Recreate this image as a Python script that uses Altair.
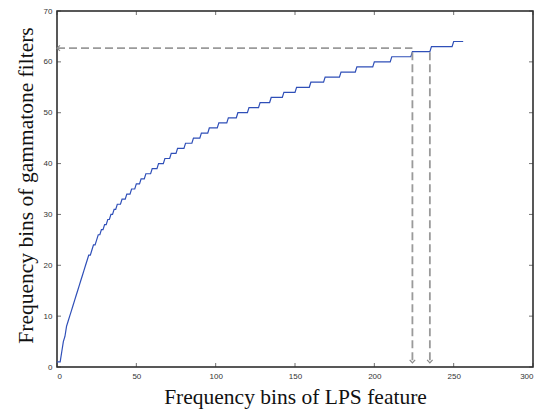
import altair as alt
import pandas as pd

# ---- data ----
# low part: gammatone bin reached at each LPS bin (0..40)
lps_bins_low = list(range(41))
gt_levels_low = [1, 1, 1, 3, 5, 6, 8, 9, 10, 11, 12, 13, 14, 15, 16, 17, 18, 19, 20, 21,
                 22, 22, 23, 24, 24, 25, 26, 26, 27, 27, 28, 28, 29, 29, 30, 30, 31, 31,
                 32, 32, 32]
# upper part: first LPS bin of each gammatone bin 33..64
gt_levels_high = list(range(33, 65))
first_lps_bin = [41, 44, 47, 50, 53, 56, 60, 64, 68, 72, 76, 81, 86, 91, 96, 102,
                 108, 114, 121, 128, 135, 143, 151, 160, 169, 179, 189, 200, 211, 224, 236, 250]
last_lps_bin = 256

# dashed guide lines (x, y, x2, y2)
guide_x = [0, 224, 235]
guide_y = [62.7, 61.9, 61.9]
guide_x2 = [224, 224, 235]
guide_y2 = [62.7, 0.8, 0.8]

x_ticks = [0, 50, 100, 150, 200, 250, 300]
y_ticks = [0, 10, 20, 30, 40, 50, 60, 70]

# ---- build tables ----
pts = [(b, v) for b, v in zip(lps_bins_low, gt_levels_low)]
for i, lvl in enumerate(gt_levels_high):
    s = first_lps_bin[i]
    e = first_lps_bin[i + 1] - 1 if i + 1 < len(first_lps_bin) else last_lps_bin
    pts.append((s, lvl))
    if e > s:
        pts.append((e, lvl))
curve = pd.DataFrame({"bin": [p[0] for p in pts], "level": [p[1] for p in pts],
                      "idx": list(range(len(pts)))})
guides = pd.DataFrame({"bin": guide_x, "level": guide_y, "x2": guide_x2, "y2": guide_y2})
down_arrows = pd.DataFrame({"bin": guide_x2[1:], "level": guide_y2[1:]})
left_arrow = pd.DataFrame({"bin": [guide_x[0]], "level": [guide_y[0]]})

W, H = 476, 356
X_TITLE = "Frequency bins of LPS feature"
Y_TITLE = "Frequency bins of gammatone filters"
xs = alt.Scale(domain=[0, 300], nice=False, zero=False)
ys = alt.Scale(domain=[0, 70], nice=False, zero=False)
xa = alt.Axis(values=x_ticks, title=X_TITLE, titleY=36, titleBaseline="alphabetic")
ya = alt.Axis(values=y_ticks, title=Y_TITLE, titleX=-25, titleY=174, titleAngle=270,
              titleAlign="center", titleBaseline="alphabetic")


def X(field):
    return alt.X(field, scale=xs, axis=xa, title=X_TITLE)


def Y(field):
    return alt.Y(field, scale=ys, axis=ya, title=Y_TITLE)


line = alt.Chart(curve).mark_line(color="#2f4fb8", strokeWidth=1.2).encode(
    x=X("bin:Q"), y=Y("level:Q"), order="idx:Q")

dash = alt.Chart(guides).mark_rule(color="#9a9a9a", strokeWidth=1.8, strokeDash=[8, 4]).encode(
    x=X("bin:Q"), y=Y("level:Q"), x2="x2:Q", y2="y2:Q")

arr_down = alt.Chart(down_arrows).mark_point(
    shape="M-1,-1.1L0,0L1,-1.1", filled=False, size=30, strokeWidth=1.2, color="#8a8a8a", opacity=1
).encode(x=X("bin:Q"), y=Y("level:Q"))

arr_left = alt.Chart(left_arrow).mark_point(
    shape="M1.1,-1L0,0L1.1,1", filled=False, size=30, strokeWidth=1.2, color="#8a8a8a", opacity=1
).encode(x=X("bin:Q"), y=Y("level:Q"))

xt = pd.DataFrame({"bin": x_ticks})
yt = pd.DataFrame({"level": y_ticks})
tick_style = dict(size=4, thickness=1, color="#333")
t_bottom = alt.Chart(xt).mark_tick(orient="vertical", **tick_style).encode(
    x=X("bin:Q"), y=alt.value(H - 2))
t_top = alt.Chart(xt).mark_tick(orient="vertical", **tick_style).encode(
    x=X("bin:Q"), y=alt.value(2))
t_left = alt.Chart(yt).mark_tick(orient="horizontal", **tick_style).encode(
    y=Y("level:Q"), x=alt.value(2))
t_right = alt.Chart(yt).mark_tick(orient="horizontal", **tick_style).encode(
    y=Y("level:Q"), x=alt.value(W - 2))

chart = alt.layer(line, dash, arr_down, arr_left, t_bottom, t_top, t_left, t_right).properties(
    width=W, height=H,
    autosize="none",
    padding={"left": 49, "top": 3, "right": 10, "bottom": 42},
).configure_view(
    stroke="#222", strokeWidth=1.5
).configure_axis(
    ticks=False, domain=False, grid=False,
    labelFont="Liberation Sans", labelFontSize=8, labelColor="#333", labelPadding=5,
    titleFont="Liberation Serif", titleFontSize=21.5, titleFontWeight="normal", titleColor="#111",
)

chart.save("out.html", embed_options={"renderer": "svg", "actions": False})
